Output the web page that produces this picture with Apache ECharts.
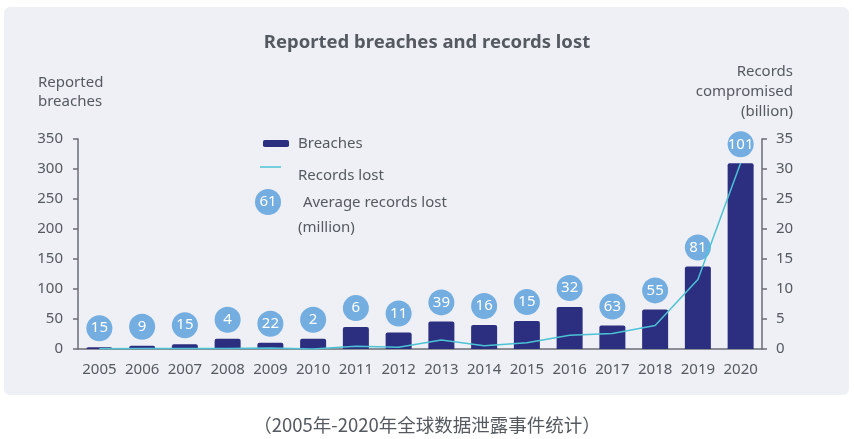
<!DOCTYPE html>
<html>
<head>
<meta charset="utf-8">
<script src="https://cdn.jsdelivr.net/npm/echarts@6/dist/echarts.min.js"></script>
<style>
html,body{margin:0;padding:0;background:#fff;}
#c{width:854px;height:439px;}
</style>
</head>
<body>
<div id="c"></div>
<script>
var years = ['2005','2006','2007','2008','2009','2010','2011','2012','2013','2014','2015','2016','2017','2018','2019','2020'];
var breaches = [3, 5.5, 8, 17, 10.5, 17, 36.5, 27.5, 46, 40, 46.5, 70, 39, 66, 137.5, 309.5];
var recordsLost = [0.05, 0.1, 0.1, 0.1, 0.15, 0, 0.45, 0.3, 1.5, 0.55, 1.05, 2.3, 2.6, 3.9, 11.6, 31];
var avgRecords = [15, 9, 15, 4, 22, 2, 6, 11, 39, 16, 15, 32, 63, 55, 81, 101];
var leftTicks = [0, 50, 100, 150, 200, 250, 300, 350];
var rightTicks = [0, 5, 10, 15, 20, 25, 30, 35];

var FONT = 'Noto Sans';
var TXT = '#555a60';
var F15 = '15px "Noto Sans"';
var chart = echarts.init(document.getElementById('c'));
chart.setOption({
  backgroundColor: '#ffffff',
  animation: false,
  textStyle: {fontFamily: FONT},
  title: {
    text: 'Reported breaches and records lost',
    left: 'center', top: 28,
    textStyle: {fontFamily: FONT, fontSize: 18.5, fontWeight: 'bold', color: '#555a60'}
  },
  legend: {
    orient: 'vertical', left: 258, top: 131,
    itemWidth: 26, itemHeight: 7,
    textStyle: {fontFamily: FONT, fontSize: 15, color: TXT, padding: [0,0,0,4]},
    data: [{name: 'Breaches', icon: 'roundRect'}]
  },
  grid: {left: 78, right: 92, top: 139, bottom: 90},
  xAxis: {
    type: 'category', data: years,
    axisLine: {lineStyle: {color: '#6b6e74', width: 1.5}},
    axisTick: {show: false},
    axisLabel: {fontFamily: FONT, fontSize: 15, color: TXT, margin: 13, interval: 0}
  },
  yAxis: [{
    type: 'value', min: 0, max: 350, interval: 50,
    axisLine: {show: true, lineStyle: {color: '#6b6e74', width: 1.5}},
    axisTick: {show: true, length: 5, lineStyle: {color: '#6b6e74', width: 1.5}},
    splitLine: {show: false},
    axisLabel: {fontFamily: FONT, fontSize: 15, color: TXT, margin: 15,
      formatter: function(v){ return leftTicks.indexOf(v) >= 0 ? String(v) : ''; }}
  }, {
    type: 'value', min: 0, max: 35, interval: 5, position: 'right',
    axisLine: {show: true, lineStyle: {color: '#6b6e74', width: 1.5}},
    axisTick: {show: true, length: 5, inside: false, lineStyle: {color: '#6b6e74', width: 1.5}},
    splitLine: {show: false},
    axisLabel: {fontFamily: FONT, fontSize: 15, color: TXT, margin: 14,
      formatter: function(v){ return rightTicks.indexOf(v) >= 0 ? String(v) : ''; }}
  }],
  graphic: [
    {type: 'rect', z: -10, silent: true, shape: {x: 4, y: 7, width: 845, height: 388, r: 6}, style: {fill: '#eef0f5'}},
    {type: 'text', x: 38, y: 73, style: {text: 'Reported\nbreaches', font: F15, fill: TXT, lineHeight: 19}},
    {type: 'text', x: 793, y: 62, style: {text: 'Records\ncompromised\n(billion)', font: F15, fill: TXT, lineHeight: 20, align: 'right'}},
    {type: 'line', shape: {x1: 260, y1: 167, x2: 281, y2: 167}, style: {stroke: '#4cc3d5', lineWidth: 1.5}},
    {type: 'text', x: 298, y: 176, style: {text: 'Records lost', font: F15, fill: TXT, verticalAlign: 'middle'}},
    {type: 'circle', shape: {cx: 268, cy: 202, r: 13}, style: {fill: '#74ade0'}},
    {type: 'text', x: 268, y: 202, style: {text: '61', font: F15, fill: '#ffffff', align: 'center', verticalAlign: 'middle'}},
    {type: 'text', x: 299, y: 203, style: {text: ' Average records lost', font: F15, fill: TXT, verticalAlign: 'middle'}},
    {type: 'text', x: 298, y: 228, style: {text: '(million)', font: F15, fill: TXT, verticalAlign: 'middle'}},
    {type: 'text', x: 427, y: 425, style: {text: '（2005年-2020年全球数据泄露事件统计）', font: '18.5px "Noto Sans CJK SC"', fill: '#555a60', align: 'center', verticalAlign: 'middle'}}
  ],
  series: [{
    name: 'Breaches', type: 'bar', data: breaches, barWidth: 26,
    itemStyle: {color: '#2c2e80', borderRadius: [2,2,0,0]},
    label: {
      show: true, position: 'top', distance: 6,
      formatter: function(p){ return String(avgRecords[p.dataIndex]); },
      backgroundColor: '#74ade0', color: '#ffffff', fontFamily: FONT, fontSize: 15,
      width: 26, height: 26, lineHeight: 26, borderRadius: 13, align: 'center', padding: 0
    }
  }, {
    name: 'Records lost', type: 'line', yAxisIndex: 1, data: recordsLost,
    symbol: 'none', smooth: false,
    lineStyle: {color: '#4cc3d5', width: 1.5}, itemStyle: {color: '#4cc3d5'}, z: 3
  }]
});
</script>
</body>
</html>
